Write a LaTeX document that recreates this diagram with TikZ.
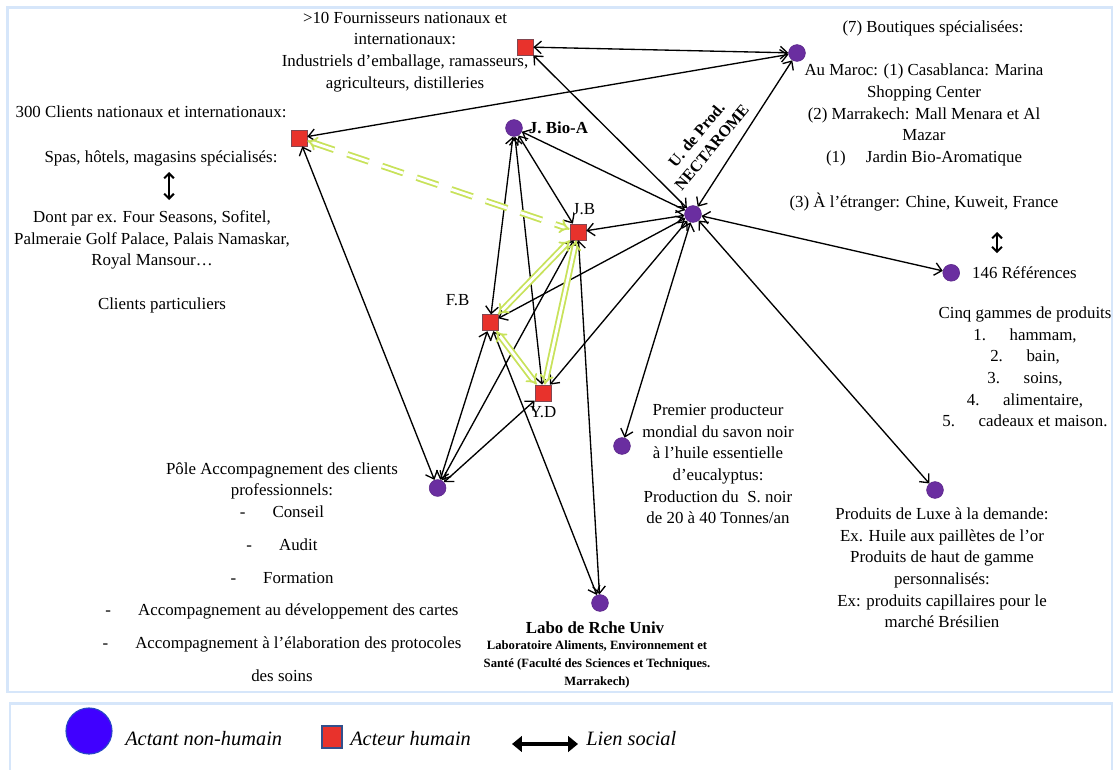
\documentclass[tikz,border=0pt]{standalone}
\usepackage{fontspec}
\setmainfont{Liberation Serif}
\usepackage{tikz}
\usetikzlibrary{arrows.meta, positioning}
\definecolor{actcol}{RGB}{106,46,160}
\definecolor{redfill}{RGB}{232,50,44}
\definecolor{redline}{RGB}{130,70,80}
\definecolor{glinecol}{RGB}{200,226,90}
\definecolor{framecol}{RGB}{214,230,250}
\definecolor{legblue}{RGB}{64,0,255}
\definecolor{legborder}{RGB}{40,70,200}
\definecolor{legsqborder}{RGB}{50,80,140}

\begin{document}
\begin{tikzpicture}[
    actant/.style={circle, fill=actcol, draw=actcol!85!black, line width=0.4pt, inner sep=0pt, minimum size=0.42cm},
    acteur/.style={rectangle, fill=redfill, draw=redline, line width=0.5pt, inner sep=0pt, minimum size=0.4cm},
    lbl/.style={font=\fontsize{12}{15.4}\selectfont, align=center, inner sep=0pt},
    lblb/.style={lbl, font=\fontsize{12}{15.4}\selectfont\bfseries},
    link/.style={{Straight Barb[length=5pt,width=9pt]}-{Straight Barb[length=5pt,width=9pt]}, line width=0.95pt},
    glink/.style={{Implies}-{Implies}, draw=glinecol, double=white, double distance=2pt, line width=1.3pt},
    gdash/.style={glink, dash pattern=on 16pt off 10pt},
    updown/.style={{Straight Barb[length=3.5pt,width=7pt]}-{Straight Barb[length=3.5pt,width=7pt]}, line width=1.4pt},
    boxframe/.style={draw=framecol, line width=2pt},
    leg/.style={font=\fontsize{14.5}{16}\selectfont\itshape, inner sep=0pt, anchor=west}
]
    \useasboundingbox (0,0) rectangle (27.95,-19.225);

    % cadres
    \draw[boxframe] (0.18,-0.18) rectangle (27.8,-17.3);
    \draw[boxframe] (0.25,-17.58) rectangle (27.8,-19.6);

    % acteurs humains
    \node[acteur] (fourn) at (13.125,-1.175) {};
    \node[acteur] (clients) at (7.475,-3.45) {};
    \node[acteur] (jb) at (14.45,-5.8) {};
    \node[acteur] (fb) at (12.25,-8.07) {};
    \node[acteur] (yd) at (13.575,-9.825) {};

    % actants non-humains
    \node[actant] (bout) at (19.925,-1.325) {};
    \node[actant] (jbioa) at (12.85,-3.2) {};
    \node[actant] (nect) at (17.325,-5.35) {};
    \node[actant] (ref) at (23.78,-6.82) {};
    \node[actant] (pole) at (10.94,-12.2) {};
    \node[actant] (premier) at (15.55,-11.15) {};
    \node[actant] (luxe) at (23.375,-12.25) {};
    \node[actant] (labo) at (15.0,-15.075) {};

    % liens sociaux
    \draw[link] (fourn) -- (bout);
    \draw[link] (fourn) -- (nect);
    \draw[link] (clients) -- (bout);
    \draw[link] (bout) -- (nect);
    \draw[link] (jbioa) -- (nect);
    \draw[link] (jbioa) -- (jb);
    \draw[link] (jb) -- (nect);
    \draw[link] (nect) -- (ref);
    \draw[link] (nect) -- (luxe);
    \draw[link] (nect) -- (premier);
    \draw[link] (nect) -- (fb);
    \draw[link] (nect) -- (yd);
    \draw[link] (jbioa) -- (fb);
    \draw[link] (jbioa) -- (yd);
    \draw[link] (clients) -- (pole);
    \draw[link] (pole) -- (fb);
    \draw[link] (pole) -- (jb);
    \draw[link] (pole) -- (yd);
    \draw[link] (fb) -- (labo);
    \draw[link] (jb) -- (labo);

    % liens entre acteurs
    \draw[gdash] (clients) -- (jb);
    \draw[glink] (fb) -- (jb);
    \draw[glink] (fb) -- (yd);
    \draw[glink] (yd) -- (jb);

    % etiquettes
    \node[lblb, right=0.15cm of jbioa] (bioalbl) {J. Bio-A};
    \node[lbl, above=0.22cm of jb, xshift=0.15cm] (jblbl) {J.B};
    \node[lbl, above left=0.2cm and 0.3cm of fb] (fblbl) {F.B};
    \node[lbl, below=0.12cm of yd] (ydlbl) {Y.D};
    \node[lblb, rotate=50, font=\fontsize{11.5}{14}\selectfont\bfseries] (nectlbl) at (17.6,-3.525) {U. de Prod.\\NECTAROME};

    % fournisseurs
    \node[lbl] (fourntxt) at (10.125,-1.3) {>10 Fournisseurs nationaux et\\internationaux:\\Industriels d’emballage, ramasseurs,\\agriculteurs, distilleries};

    % clients
    \node[lbl] (clientstitle) at (3.775,-2.8) {300 Clients nationaux et internationaux:};
    \node[lbl] (clientsspas) at (4.025,-3.95) {Spas, hôtels, magasins spécialisés:};
    \coordinate (cuptop) at (4.225,-4.3);
    \coordinate (cupbot) at (4.225,-5.0);
    \draw[updown] (cuptop) -- (cupbot);
    \node[lbl] (clientsex) at (3.8,-6.0) {Dont par ex. Four Seasons, Sofitel,\\Palmeraie Golf Palace, Palais Namaskar,\\Royal Mansour…};
    \node[lbl] (clientspart) at (4.05,-7.625) {Clients particuliers};

    % boutiques
    \node[lbl] (bouttitle) at (23.325,-0.7) {(7) Boutiques spécialisées:};
    \node[lbl] (bouttxt) at (23.1,-2.875) {Au Maroc: (1) Casablanca: Marina\\Shopping Center\\(2) Marrakech: Mall Menara et Al\\Mazar\\(1)\hspace{1.2em}Jardin Bio-Aromatique};
    \node[lbl] (boutetr) at (23.1,-5.05) {(3) À l’étranger: Chine, Kuweit, France};
    \coordinate (rtop) at (24.925,-5.8);
    \coordinate (rbot) at (24.925,-6.33);
    \draw[updown] (rtop) -- (rbot);

    % references
    \node[lbl, right=0.3cm of ref] (reflbl) {146 Références};
    \node[lbl] (gammes) at (25.625,-9.175) {Cinq gammes de produits\\1.\hspace{1.4em}hammam,\\2.\hspace{1.4em}bain,\\3.\hspace{1.4em}soins,\\4.\hspace{1.4em}alimentaire,\\5.\hspace{1.4em}cadeaux et maison.};

    % savon noir
    \node[lbl] (premiertxt) at (17.95,-11.6) {Premier producteur\\mondial du savon noir\\à l’huile essentielle\\d’eucalyptus:\\Production du\ \ S. noir\\de 20 à 40 Tonnes/an};

    % luxe
    \node[lbl] (luxetxt) at (23.55,-14.2) {Produits de Luxe à la demande:\\Ex. Huile aux paillètes de l’or\\Produits de haut de gamme\\personnalisés:\\Ex: produits capillaires pour le\\marché Brésilien};

    % pole accompagnement
    \node[lbl] (poletxt) at (7.05,-14.3) {Pôle Accompagnement des clients\\professionnels:\\-\hspace{1.6em}Conseil\\[7.9pt]-\hspace{1.6em}Audit\\[7.9pt]-\hspace{1.6em}Formation\\[7.9pt]-\hspace{1.6em}Accompagnement au développement des cartes\\[7.9pt]-\hspace{1.6em}Accompagnement à l’élaboration des protocoles\\[7.9pt]des soins};

    % labo
    \node[lblb] (labotitle) at (14.875,-15.7) {Labo de Rche Univ};
    \node[lbl, font=\fontsize{9}{12.8}\selectfont\bfseries] (labosub) at (14.925,-16.62) {Laboratoire Aliments, Environnement et\\Santé (Faculté des Sciences et Techniques.\\Marrakech)};

    % legende
    \node[circle, fill=legblue, draw=legborder, line width=0.8pt, minimum size=1.15cm, inner sep=0pt] (legact) at (2.225,-18.275) {};
    \node[leg] (legacttxt) at (3.125,-18.475) {Actant non-humain};
    \node[rectangle, fill=redfill, draw=legsqborder, line width=1.5pt, minimum width=0.5cm, minimum height=0.55cm, inner sep=0pt] (legsq) at (8.3,-18.425) {};
    \node[leg] (legsqtxt) at (8.75,-18.475) {Acteur humain};
    \coordinate (legl) at (12.8,-18.6);
    \coordinate (legr) at (14.45,-18.6);
    \draw[{Triangle[length=7pt,width=11pt]}-{Triangle[length=7pt,width=11pt]}, line width=2.5pt] (legl) -- (legr);
    \node[leg] (legliens) at (14.65,-18.475) {Lien social};
\end{tikzpicture}
\end{document}
